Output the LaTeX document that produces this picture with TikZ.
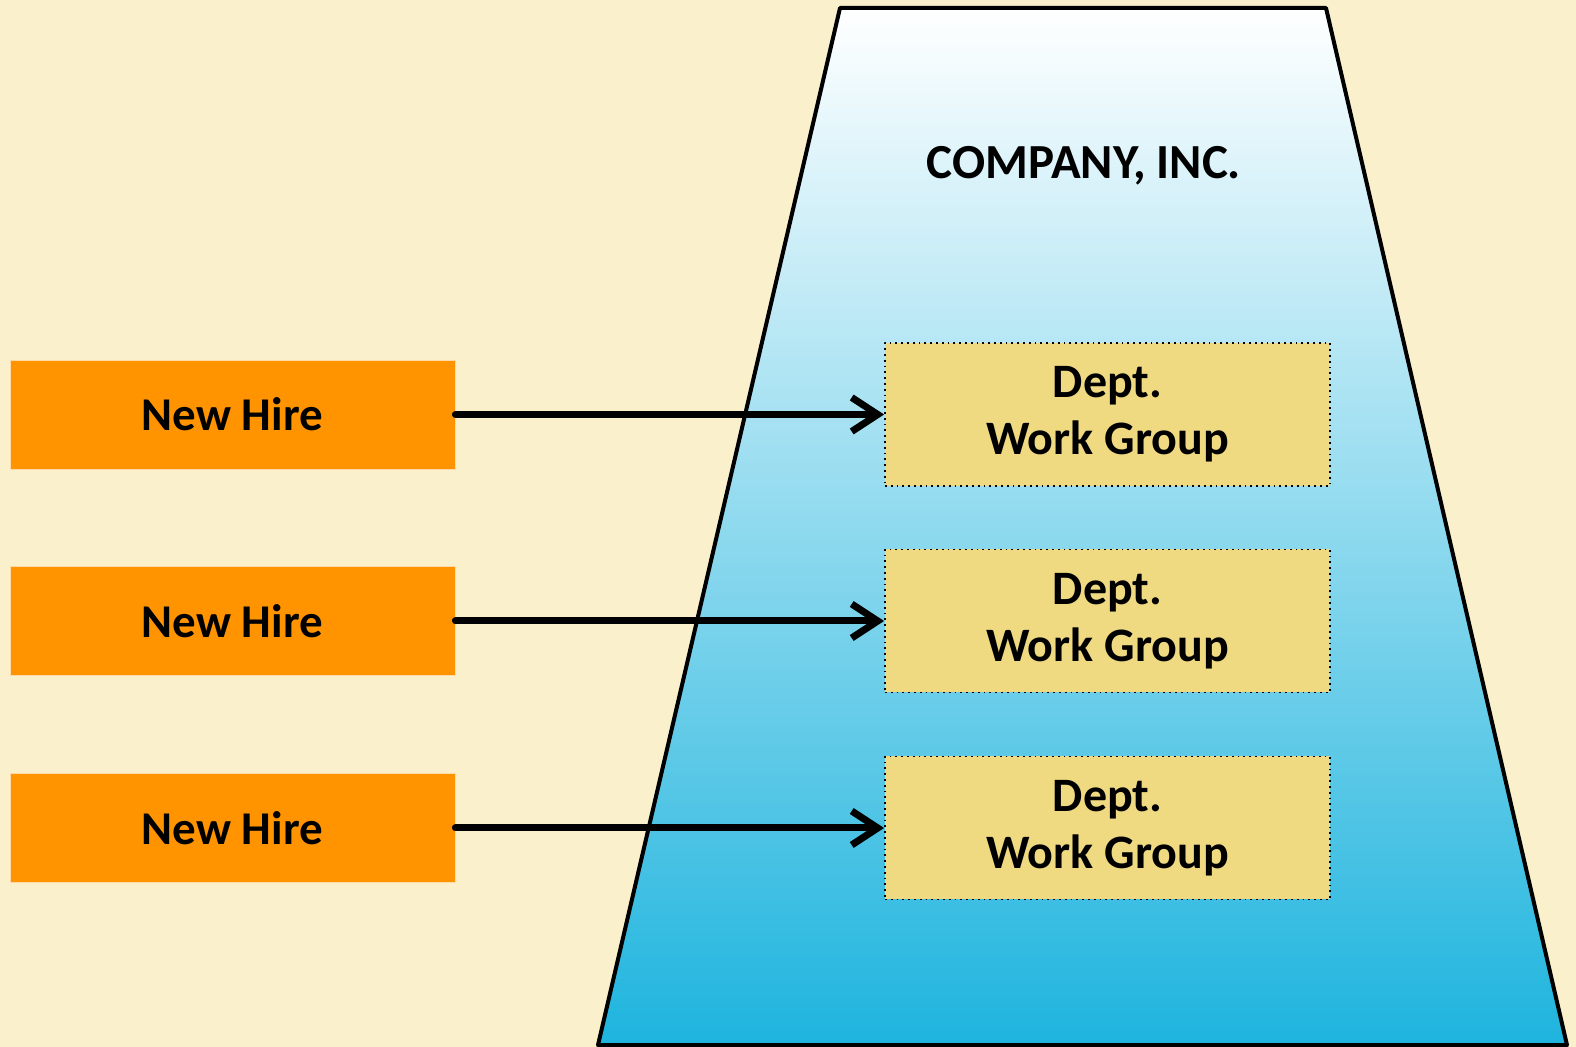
\documentclass[tikz,border=0pt]{standalone}
\usepackage{fontspec}
\setmainfont{Carlito}
\usetikzlibrary{arrows.meta}
\definecolor{bgcream}{RGB}{250,240,204}
\definecolor{hireorange}{RGB}{255,148,0}
\definecolor{groupgold}{RGB}{239,217,129}
\definecolor{companyblue}{RGB}{30,180,222}
\tikzset{
    hire/.style={fill=hireorange, draw=hireorange!35!white, line width=0.4pt, minimum width=222.5pt, minimum height=54.5pt, inner sep=0pt, font=\fontsize{23.5}{27}\selectfont\bfseries},
    workgroup/.style={fill=groupgold, draw=black, line width=0.9pt, line cap=butt, dash pattern=on 0.9pt off 2pt, minimum width=222.5pt, minimum height=71.5pt, inner sep=0pt, align=center, font=\fontsize{24}{28.5}\selectfont\bfseries},
}
\begin{document}
\begin{tikzpicture}[x=0.5pt, y=-0.5pt, line join=round, line cap=round, >={Straight Barb[length=13pt,width=17pt]}]
            \fill[bgcream] (0,0) rectangle (1576,1047);
            \useasboundingbox (0,0) rectangle (1576,1047);
            \shade[top color=white, bottom color=companyblue] (840,8) -- (1326,8) -- (1567,1045) -- (598,1045) -- cycle;
            \draw[line width=2pt] (840,8) -- (1326,8) -- (1567,1045) -- (598,1045) -- cycle;
            \node[font=\fontsize{24.5}{28}\selectfont\bfseries] (company) at (1084,166) {COMPANY, INC.};
            \node[hire] (hire1) at (232.5,414.5) {New Hire};
            \node[hire] (hire2) at (232.5,621) {New Hire};
            \node[hire] (hire3) at (232.5,828) {New Hire};
            \node[workgroup] (group1) at (1107.5,414.5) {Dept.\\Work Group};
            \node[workgroup] (group2) at (1107.5,621) {Dept.\\Work Group};
            \node[workgroup] (group3) at (1107.5,828) {Dept.\\Work Group};
            \draw[->, line width=3.5pt] (hire1) -- (group1);
            \draw[->, line width=3.5pt] (hire2) -- (group2);
            \draw[->, line width=3.5pt] (hire3) -- (group3);
\end{tikzpicture}
\end{document}
